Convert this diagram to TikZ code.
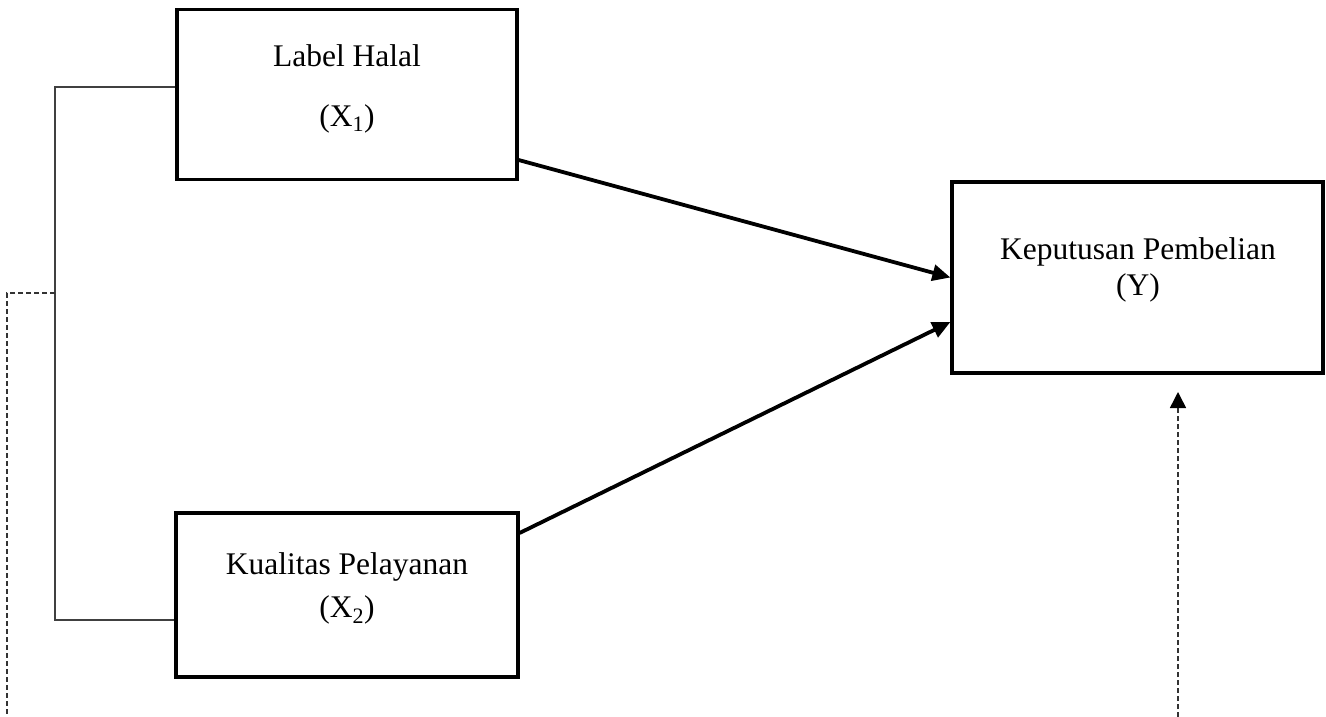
\documentclass[tikz,border=0pt]{standalone}
\usepackage{fontspec}
\setmainfont{Liberation Serif}
\usetikzlibrary{arrows.meta}
\begin{document}
\begin{tikzpicture}[x=1pt,y=-1pt,
  varbox/.style={draw=black,line width=3.2pt,rectangle,inner sep=0pt},
  txt/.style={anchor=base,inner sep=0pt,font=\fontsize{31.5}{38}\selectfont},
  mainarrow/.style={line width=3.8pt,-{Triangle[length=18pt,width=16pt]}},
  bracket/.style={line width=1.4pt,draw=black!75},
  dashline/.style={line width=1.5pt,draw=black!80,dash pattern=on 5pt off 3pt},
  dasharrow/.style={dashline,-{Triangle[length=16pt,width=16pt,color=black]}}]
\useasboundingbox (0,0) rectangle (1326,717);
% boxes
\node[varbox,minimum width=340pt,minimum height=170pt] (b1) at (347,94.5) {};
\node[varbox,minimum width=342pt,minimum height=164pt] (b2) at (347,595) {};
\node[varbox,minimum width=371pt,minimum height=191pt] (y) at (1137.5,277.5) {};
% texts
\node[txt] (t1a) at (347,66.7) {Label Halal};
\node[txt] (t1b) at (347,126) {(X\textsubscript{1})};
\node[txt] (t2a) at (347,574) {Kualitas Pelayanan};
\node[txt] (t2b) at (347,617) {(X\textsubscript{2})};
\node[txt] (tya) at (1138,259) {Keputusan Pembelian};
\node[txt] (tyb) at (1138,295) {(Y)};
% arrows
\draw[mainarrow] ([yshift=-65.5pt]b1.east) -- (y.west);
\draw[mainarrow] ([yshift=62pt]b2.east) -- ([yshift=-44.5pt]y.west);
% bracket
\coordinate (jt) at (55,87);
\coordinate (jb) at (55,620);
\coordinate (jm) at (55,293);
\coordinate (dc) at (7,293);
\coordinate (de) at (7,717);
\draw[bracket] ([yshift=7.5pt]b1.west) -- (jt) -- (jb) -- ([yshift=-25pt]b2.west);
\draw[dashline] (jm) -- (dc) -- (de);
% dashed arrow up
\coordinate (ub) at (1178,717);
\coordinate (ut) at (1178,392);
\draw[dasharrow] (ub) -- (ut);
\end{tikzpicture}
\end{document}
